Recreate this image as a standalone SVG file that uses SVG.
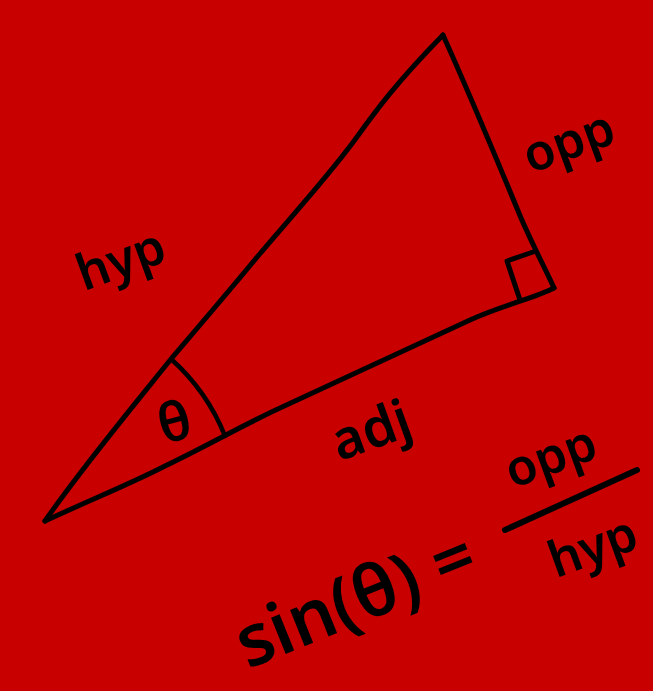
<svg xmlns="http://www.w3.org/2000/svg" width="653" height="691" viewBox="0 0 653 691">
<style>
.ln{fill:none;stroke:#000;stroke-linecap:round;stroke-linejoin:round}
.t{font-family:"Noto Sans","DejaVu Sans",sans-serif;font-weight:600;fill:#000;text-anchor:middle;dominant-baseline:central}
</style>
<rect width="653" height="691" fill="#c80000"/>
<g id="triangle">
<path class="ln" stroke-width="5" d="M45,521 C80,470 130,410 171,359 C200,325 230,290 258,256 C290,218 325,180 354,141 C375,112 395,84 443,35"/>
<path class="ln" stroke-width="5" d="M443,35 C470,95 495,155 521,218 C535,250 545,268 554,288"/>
<path class="ln" stroke-width="5" d="M45,521 C90,500 130,484 163,467 C205,447 245,424 280,408 L470,320 C500,306 535,298 554,288"/>
<path class="ln" stroke-width="5" d="M533,252 L507,261 L520,300"/>
<path class="ln" stroke-width="4.5" d="M171,359 A205,205 0 0 1 225,436"/>
</g>
<g id="labels">
<text class="t" font-size="54" transform="translate(174,420) rotate(-15)">θ</text>
<text class="t" font-size="50" transform="translate(120,258) rotate(-20)">hyp</text>
<text class="t" font-size="50" transform="translate(568,140) rotate(-20)">opp</text>
<text class="t" font-size="54" transform="translate(370,428) rotate(-20)">adj</text>
</g>
<g id="formula">
<text class="t" font-size="72" transform="translate(354,596) rotate(-22)">sin(θ) =</text>
<text class="t" font-size="50" transform="translate(550,455) rotate(-20)">opp</text>
<path class="ln" stroke-width="6" d="M505,530 L637,470"/>
<text class="t" font-size="50" transform="translate(592,545) rotate(-20)">hyp</text>
</g>
</svg>
